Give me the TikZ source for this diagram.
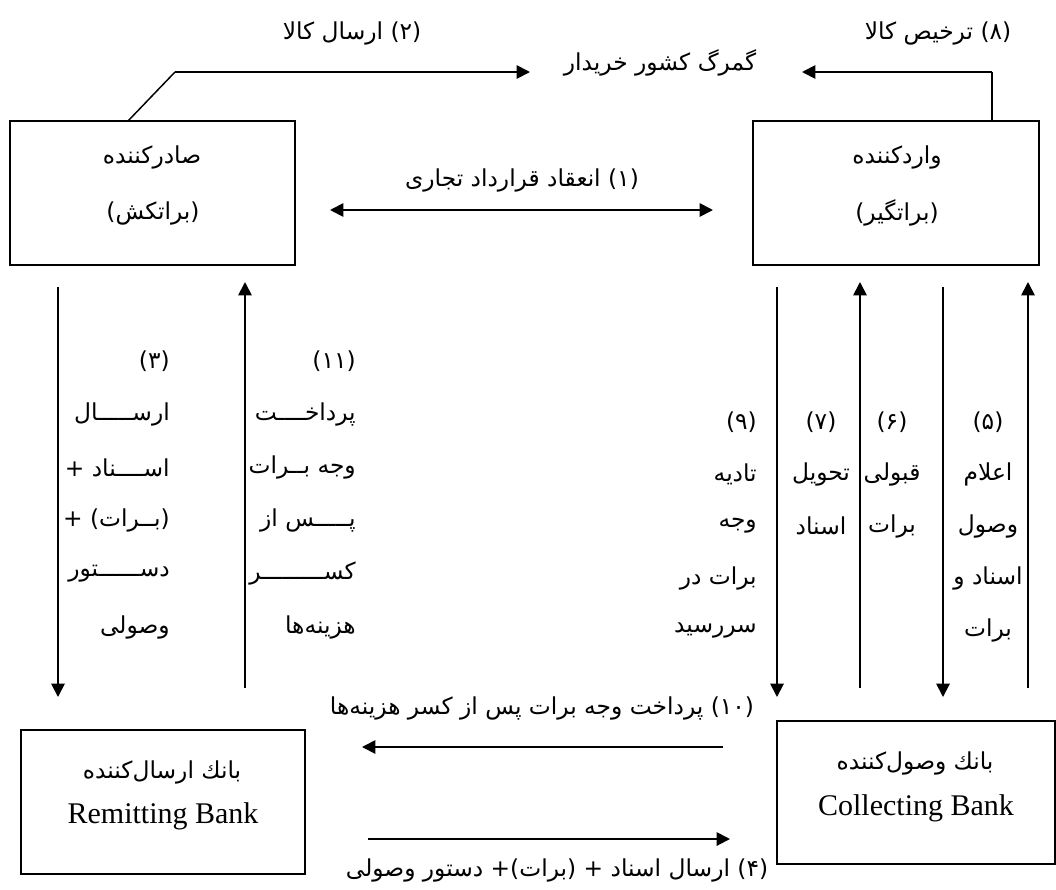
\documentclass[tikz,border=0pt]{standalone}
\usepackage{fontspec}
\setmainfont{Liberation Serif}
\newfontfamily\fa[Script=Arabic]{DejaVu Sans}
\TeXXeTstate=1
\usetikzlibrary{arrows.meta}
\newcommand{\RT}[1]{\beginR #1\endR}
\begin{document}
\begin{tikzpicture}[x=0.75pt,y=-0.75pt,
  fa/.style={font=\fa\fontsize{17.5}{20}\selectfont, inner sep=0pt},
  en/.style={font=\fontsize{22.5}{26}\selectfont, inner sep=0pt},
  box/.style={draw, line width=1.3pt, inner sep=0pt},
  link/.style={line width=1.4pt},
  arr/.style={link, -{Triangle[length=10pt,width=10pt]}},
  darr/.style={link, {Triangle[length=10pt,width=10pt]}-{Triangle[length=10pt,width=10pt]}}
]
\useasboundingbox (0,0) rectangle (1056,889);
% boxes
\node[box, minimum width=213.75pt, minimum height=108pt] (exp) at (152.5,193) {};
\node[box, minimum width=214.5pt, minimum height=108pt] (imp) at (896,193) {};
\node[box, minimum width=213pt, minimum height=108pt] (rem) at (163,802) {};
\node[box, minimum width=208.5pt, minimum height=107.25pt] (col) at (916,792.5) {};
% box texts
\node[fa] (expT1) at (152,157) {\RT{صادرکننده}};
\node[fa] (expT2) at (153,213) {\RT{(براتکش)}};
\node[fa] (impT1) at (897,157) {\RT{واردکننده}};
\node[fa] (impT2) at (897,213) {\RT{(براتگیر)}};
\node[fa] (remT1) at (162,772) {\RT{بانك ارسال^^^^200cکننده}};
\node[en] (remT2) at (163,816) {Remitting Bank};
\node[fa] (colT1) at (915,763) {\RT{بانك وصول^^^^200cکننده}};
\node[en] (colT2) at (916,808) {Collecting Bank};
% labels
\node[fa] (l2) at (352,33) {\RT{(۲) ارسال کالا}};
\node[fa] (cust) at (660,63) {\RT{گمرگ کشور خریدار}};
\node[fa] (l8) at (938,33) {\RT{(۸) ترخیص کالا}};
\node[fa] (l1) at (522,180) {\RT{(۱) انعقاد قرارداد تجاری}};
\node[fa] (l10) at (542,708) {\RT{(۱۰) پرداخت وجه برات پس از کسر هزینه^^^^200cها}};
\node[fa] (l4) at (557,870) {\RT{(۴) ارسال اسناد + (برات)+ دستور وصولی}};
% column texts
\foreach \t [count=\i] in {(۳),ارســـــال,اســــناد +,(بــرات) +,دســــــتور,وصولی}
  \node[fa,anchor=east] (c3-\i) at (170,{361+53.2*(\i-1)}) {\RT{\t}};
\foreach \t [count=\i] in {(۱۱),پرداخــــت,وجه بــرات,پـــــس از,کســـــــــر,هزینه^^^^200cها}
  \node[fa,anchor=east] (c11-\i) at (356,{361+53.2*(\i-1)}) {\RT{\t}};
\foreach \t [count=\i] in {(۹),تادیه,وجه,برات  در,سررسید}
  \node[fa,anchor=east] (c9-\i) at (757,{422+52*(\i-1)}) {\RT{\t}};
\foreach \t [count=\i] in {(۷),تحویل,اسناد}
  \node[fa] (c7-\i) at (821,{422+52*(\i-1)}) {\RT{\t}};
\foreach \t [count=\i] in {(۶),قبولی,برات}
  \node[fa] (c6-\i) at (892,{422+52*(\i-1)}) {\RT{\t}};
\foreach \t [count=\i] in {(۵),اعلام,وصول,اسناد و,برات}
  \node[fa] (c5-\i) at (988,{422+52*(\i-1)}) {\RT{\t}};
% connector points
\coordinate (p2a) at (128,121);
\coordinate (p2b) at (175,72);
\coordinate (p2c) at (530,72);
\coordinate (p8a) at (992,121);
\coordinate (p8b) at (992,72);
\coordinate (p8c) at (802,72);
\coordinate (p1a) at (330,210);
\coordinate (p1b) at (713,210);
\coordinate (a3s) at (58,287);   \coordinate (a3e) at (58,697);
\coordinate (a11s) at (245,688); \coordinate (a11e) at (245,282);
\coordinate (a9s) at (777,287);  \coordinate (a9e) at (777,697);
\coordinate (a7s) at (860,688);  \coordinate (a7e) at (860,282);
\coordinate (a6s) at (943,287);  \coordinate (a6e) at (943,697);
\coordinate (a5s) at (1028,688); \coordinate (a5e) at (1028,282);
\coordinate (a10s) at (723,747); \coordinate (a10e) at (362,747);
\coordinate (a4s) at (368,839);  \coordinate (a4e) at (730,839);
% connectors
\draw[link,line width=1.1pt] (p2a) -- (p2b);
\draw[arr] (p2b) -- (p2c);
\draw[link,line width=1.1pt] (p8a) -- (p8b);
\draw[arr] (p8b) -- (p8c);
\draw[darr] (p1a) -- (p1b);
\draw[arr] (a3s) -- (a3e);
\draw[arr] (a11s) -- (a11e);
\draw[arr] (a9s) -- (a9e);
\draw[arr] (a7s) -- (a7e);
\draw[arr] (a6s) -- (a6e);
\draw[arr] (a5s) -- (a5e);
\draw[arr] (a10s) -- (a10e);
\draw[arr] (a4s) -- (a4e);
\end{tikzpicture}
\end{document}
